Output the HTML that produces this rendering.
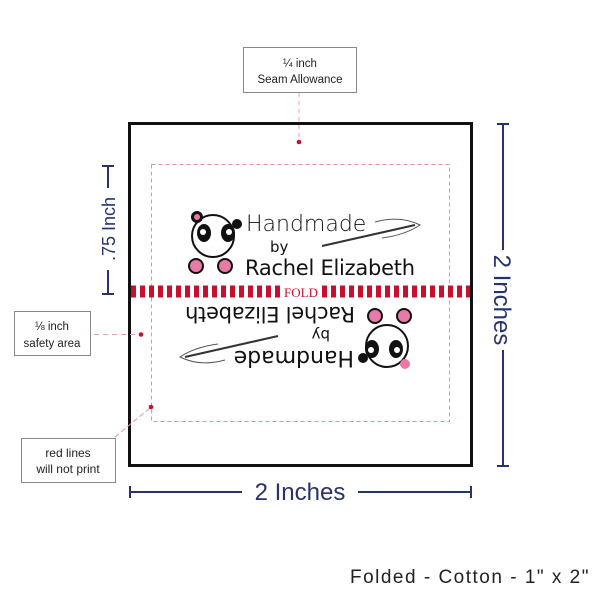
<!DOCTYPE html>
<html><head><meta charset="utf-8"><style>
html,body{margin:0;padding:0;background:#fff;}
body{width:600px;height:600px;overflow:hidden;font-family:"Liberation Sans",sans-serif;}
</style></head><body>
<svg width="600" height="600" viewBox="0 0 600 600" xmlns="http://www.w3.org/2000/svg" font-family="Liberation Sans, sans-serif">
<rect x="243.5" y="47.5" width="113" height="45" fill="#fff" stroke="#888"/>
<text x="300" y="67" font-size="11.5" text-anchor="middle" fill="#222">¼ inch</text>
<text x="300" y="83" font-size="11.5" text-anchor="middle" fill="#222">Seam Allowance</text>
<line x1="299" y1="93" x2="299" y2="140" stroke="#e8a0aa" stroke-dasharray="4,4"/>
<circle cx="299" cy="142" r="2.3" fill="#c8102e"/>
<rect x="129.5" y="123.5" width="342" height="342" fill="none" stroke="#111" stroke-width="3"/>
<rect x="151.5" y="164.5" width="298" height="257" fill="none" stroke="#e8909c" stroke-dasharray="4,3"/>
<line x1="131" y1="291.5" x2="282" y2="291.5" stroke="#c8102e" stroke-width="12" stroke-dasharray="5,4"/>
<line x1="322" y1="291.5" x2="470" y2="291.5" stroke="#c8102e" stroke-width="12" stroke-dasharray="5,4"/>
<text x="301" y="297" font-size="13" font-family="Liberation Serif, serif" text-anchor="middle" fill="#c8102e">FOLD</text>
<g>
<circle cx="213" cy="236" r="21" fill="#fff" stroke="#111" stroke-width="2"/>
<circle cx="197" cy="217" r="6" fill="#111"/><circle cx="197" cy="217" r="3" fill="#e87aa8"/>
<circle cx="237" cy="224" r="5" fill="#111"/>
<ellipse cx="204" cy="233" rx="7" ry="9" fill="#111"/><ellipse cx="228" cy="233" rx="7" ry="9" fill="#111"/>
<circle cx="203" cy="232" r="3" fill="#fff"/><circle cx="229" cy="232" r="3" fill="#fff"/>
<circle cx="196" cy="266" r="7" fill="#e87aa8" stroke="#111" stroke-width="2"/>
<circle cx="225" cy="266" r="7" fill="#e87aa8" stroke="#111" stroke-width="2"/>
<text x="246" y="231" font-size="22" fill="#111" font-family="DejaVu Sans, sans-serif" font-weight="300">Handmade</text>
<text x="270" y="252" font-size="15" fill="#111" font-family="DejaVu Sans, sans-serif">by</text>
<text x="245" y="275" font-size="21" fill="#111" font-family="DejaVu Sans, sans-serif" textLength="170">Rachel Elizabeth</text>
<line x1="322" y1="246" x2="415" y2="225" stroke="#333" stroke-width="2"/>
<path d="M375 222 Q400 215 420 225 Q405 235 382 238" fill="none" stroke="#555"/>
</g>
<g transform="rotate(180 300 291)">
<circle cx="213" cy="236" r="21" fill="#fff" stroke="#111" stroke-width="2"/>
<circle cx="237" cy="224" r="5" fill="#111"/><circle cx="195" cy="218" r="5" fill="#e87aa8"/>
<ellipse cx="204" cy="233" rx="7" ry="9" fill="#111"/><ellipse cx="228" cy="233" rx="7" ry="9" fill="#111"/>
<circle cx="203" cy="232" r="3" fill="#fff"/><circle cx="229" cy="232" r="3" fill="#fff"/>
<circle cx="196" cy="266" r="7" fill="#e87aa8" stroke="#111" stroke-width="2"/>
<circle cx="225" cy="266" r="7" fill="#e87aa8" stroke="#111" stroke-width="2"/>
<text x="246" y="231" font-size="22" fill="#111" font-family="DejaVu Sans, sans-serif">Handmade</text>
<text x="270" y="252" font-size="15" fill="#111" font-family="DejaVu Sans, sans-serif">by</text>
<text x="245" y="275" font-size="21" fill="#111" font-family="DejaVu Sans, sans-serif" textLength="170">Rachel Elizabeth</text>
<line x1="322" y1="246" x2="415" y2="225" stroke="#333" stroke-width="2"/>
<path d="M375 222 Q400 215 420 225 Q405 235 382 238" fill="none" stroke="#555"/>
</g>
<g stroke="#27336b" stroke-width="2">
<line x1="108" y1="166" x2="108" y2="188"/><line x1="102" y1="166" x2="114" y2="166"/>
<line x1="108" y1="270" x2="108" y2="294"/><line x1="102" y1="294" x2="114" y2="294"/>
</g>
<text transform="translate(115 229) rotate(-90)" font-size="18" text-anchor="middle" fill="#27336b">.75 Inch</text>
<g stroke="#27336b" stroke-width="2">
<line x1="503" y1="124" x2="503" y2="250"/><line x1="497" y1="124" x2="509" y2="124"/>
<line x1="503" y1="350" x2="503" y2="466"/><line x1="497" y1="466" x2="509" y2="466"/>
</g>
<text transform="translate(494 300) rotate(90)" font-size="24" text-anchor="middle" fill="#27336b">2 Inches</text>
<g stroke="#27336b" stroke-width="2">
<line x1="130" y1="492" x2="242" y2="492"/><line x1="130" y1="486" x2="130" y2="498"/>
<line x1="358" y1="492" x2="471" y2="492"/><line x1="471" y1="486" x2="471" y2="498"/>
</g>
<text x="300" y="500" font-size="24" text-anchor="middle" fill="#27336b">2 Inches</text>
<rect x="14.5" y="311.5" width="76" height="44" fill="#fff" stroke="#888"/>
<text x="52" y="330" font-size="11.5" text-anchor="middle" fill="#222">⅛ inch</text>
<text x="52" y="347" font-size="11.5" text-anchor="middle" fill="#222">safety area</text>
<line x1="94" y1="334.5" x2="139" y2="334.5" stroke="#e8a0aa" stroke-dasharray="5,4"/>
<circle cx="141" cy="334.5" r="2.3" fill="#c8102e"/>
<rect x="21.5" y="438.5" width="94" height="44" fill="#fff" stroke="#888"/>
<text x="68" y="457" font-size="12" text-anchor="middle" fill="#222">red lines</text>
<text x="68" y="473" font-size="12" text-anchor="middle" fill="#222">will not print</text>
<line x1="115" y1="437" x2="150" y2="408" stroke="#e8909c" stroke-dasharray="5,3"/>
<circle cx="151" cy="407" r="2.3" fill="#c8102e"/>
<text x="590" y="583" font-size="19" text-anchor="end" letter-spacing="1.5" fill="#222">Folded - Cotton - 1" x 2"</text>
</svg>
</body></html>
